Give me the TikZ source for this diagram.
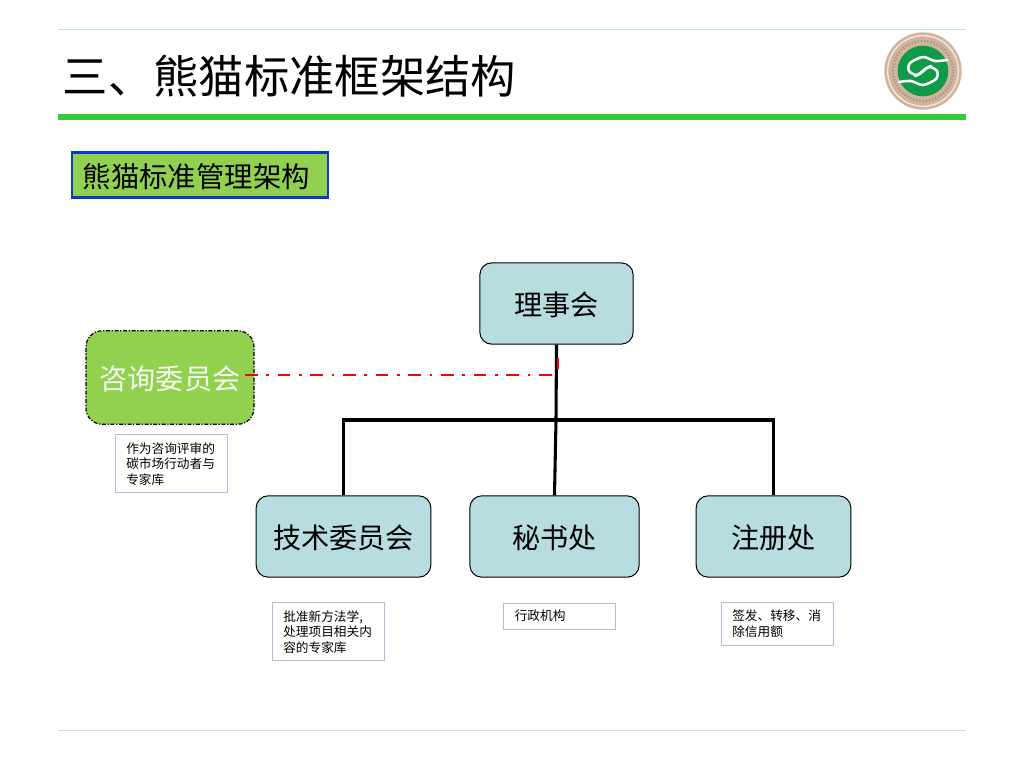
\documentclass[tikz,border=0pt]{standalone}
\usepackage{fontspec}
\setmainfont{Noto Sans CJK SC}
\definecolor{paleteal}{HTML}{B7DDE1}
\definecolor{leaf}{HTML}{92D14F}
\definecolor{barg}{HTML}{33CC33}
\definecolor{hair}{HTML}{BFEABF}
\definecolor{lilac}{HTML}{B9B9DC}
\definecolor{logog}{HTML}{0F9A4A}
\definecolor{logot}{HTML}{D2B49C}
\tikzset{
 x=0.75pt,y=-0.75pt,
 orgbox/.style={draw=black,line width=0.75pt,fill=paleteal,rounded corners=9pt,inner sep=0pt,font=\fontsize{21.1}{25}\selectfont},
 notebox/.style={draw=lilac,line width=0.75pt,fill=white,inner sep=0pt},
 notetext/.style={anchor=north west,inner sep=0pt,align=left,font=\fontsize{9.5}{11.7}\selectfont},
 link/.style={draw=black,line width=2.3pt},
 advlink/.style={draw=red,line width=2.2pt,dash pattern=on 9.5pt off 6.5pt on 2pt off 6.5pt},
 hairline/.style={draw=hair,line width=0.75pt},
 swirl/.style={draw=white,line width=1.9pt,line cap=round},
}
\begin{document}
\begin{tikzpicture}
\useasboundingbox (0,0) rectangle (1024,768);
\fill[white] (0,0) rectangle (1024,768);
% frame
\draw[hairline] (58,29) -- (966,29);
\draw[hairline] (58,730) -- (966,730);
\fill[barg] (58,114) rectangle (966,120);
\node[anchor=west,inner sep=0pt,font=\fontsize{34}{40}\selectfont] (title) at (62.5,76.5) {三、熊猫标准框架结构};
% logo
\fill[logot] (923,71) circle[radius=29pt];
\draw[white!70!logot,line width=1pt] (923,71) circle[radius=26.5pt];
\draw[logot!70!black!80!white,line width=2pt,dash pattern=on 1pt off 1.4pt] (923,71) circle[radius=22.5pt];
\fill[logog] (923,71) circle[radius=19pt];
\draw[swirl] plot[smooth] coordinates {(947,60) (935,61) (923,57) (910,63) (909,71) (917,75) (925,69) (931,66)};
\draw[swirl] plot[smooth] coordinates {(899,82) (911,81) (923,85) (936,79) (937,71) (929,67) (921,73) (915,76)};
% heading
\node[draw={rgb,255:red,10;green,60;blue,200},line width=2.2pt,fill=leaf,minimum width=192pt,minimum height=33.5pt,inner sep=0pt] (head) at (200,175) {};
\node[anchor=west,inner sep=0pt,font=\fontsize{21.3}{25}\selectfont] (headt) at (82.5,177) {熊猫标准管理架构};
% boxes
\node[orgbox,minimum width=115pt,minimum height=61pt,text depth=-3pt] (board) at (556.5,303.5) {理事会};
\node[orgbox,minimum width=131pt,minimum height=61pt,text depth=-3pt] (tech) at (343.5,536.5) {技术委员会};
\node[orgbox,minimum width=127pt,minimum height=61pt,text depth=-3pt] (sec) at (554.5,536.5) {秘书处};
\node[orgbox,minimum width=116pt,minimum height=61pt,text depth=-3pt] (reg) at (773.5,536.5) {注册处};
\node[draw=black,line width=0.9pt,dash pattern=on 3pt off 1.2pt on 1pt off 1.2pt,fill=leaf,rounded corners=12pt,text=white!92!leaf,inner sep=0pt,minimum width=126pt,minimum height=70pt,text depth=-3pt,font=\fontsize{21.1}{25}\selectfont] (adv) at (170,377.5) {咨询委员会};
% notes
\node[notebox,minimum width=84pt,minimum height=43pt] (n1) at (171,463.5) {};
\node[notetext] (n1t) at (126,442) {作为咨询评审的\\碳市场行动者与\\专家库};
\node[notebox,minimum width=84pt,minimum height=43pt] (n2) at (328,631.5) {};
\node[notetext] (n2t) at (283,610) {批准新方法学,\\处理项目相关内\\容的专家库};
\node[notebox,minimum width=84pt,minimum height=20pt] (n3) at (559.5,616.5) {};
\node[notetext] (n3t) at (514.5,610) {行政机构};
\node[notebox,minimum width=84pt,minimum height=32pt] (n4) at (777,624) {};
\node[notetext] (n4t) at (732,610) {签发、转移、消\\除信用额};
% connectors
\coordinate (jn) at (556,420);
\coordinate (advend) at (556,375);
\coordinate (advstart) at (245,375);
\draw[link] (board.south) -- (jn) -- (sec.north);
\draw[link] (tech.north) |- (jn) -| (reg.north);
\draw[advlink] (advstart) -- (advend);
\draw[red,line width=1.2pt] (558,358) -- (558,369);
\end{tikzpicture}
\end{document}
